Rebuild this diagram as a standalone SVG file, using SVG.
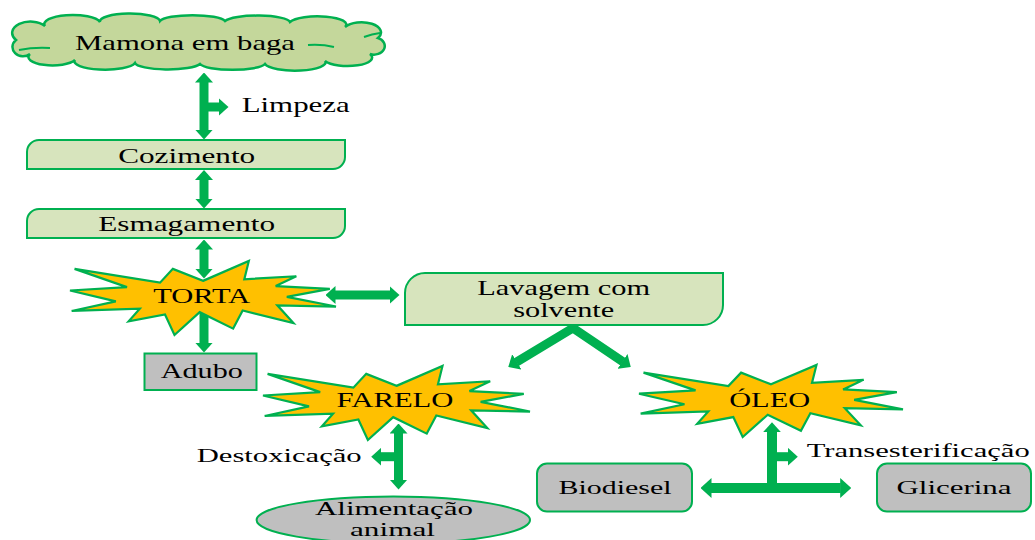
<svg xmlns="http://www.w3.org/2000/svg" xmlns:xlink="http://www.w3.org/1999/xlink" width="1035" height="540" viewBox="0 0 1035 540">
<style>
text{font-family:"Liberation Serif","Times New Roman",serif;fill:#000;font-size:21px}
.c{text-anchor:middle}
.s{font-size:19px}
.box{fill:#d7e4bd;stroke:#00b050;stroke-width:2}
.gray{fill:#bfbfbf;stroke:#00b050;stroke-width:2}
.cloud{fill:#c4d79b;stroke:#00b050;stroke-width:2.5}
.star{fill:#ffc000;stroke:#00b050;stroke-width:2.2}
.ar{fill:none;stroke:#00b050;stroke-width:9;stroke-linejoin:miter}
.ar2{fill:none;stroke:#00b050;stroke-width:10}
</style>
<defs>
<marker id="h" viewBox="0 -9 10 18" refX="0.5" refY="0" markerWidth="10" markerHeight="18" markerUnits="userSpaceOnUse" orient="auto-start-reverse">
<path d="M0,-9 L10,0 L0,9 Z" fill="#00b050"/>
</marker>
<marker id="hb" viewBox="0 -10 11 20" refX="0.5" refY="0" markerWidth="11" markerHeight="20" markerUnits="userSpaceOnUse" orient="auto-start-reverse">
<path d="M0,-10 L11,0 L0,10 Z" fill="#00b050"/>
</marker>
<path id="seal" vector-effect="non-scaling-stroke" d="M50,26.85 L67.23,0 L65.53,24.65 L85.09,20.63 L77.32,33.87 L97.67,37.67 L81.51,48.5 L100,61.53 L77.95,59.92 L84,83.77 L64.91,66.93 L61.33,91.38 L48.76,69.14 L39.28,100 L35.72,72.35 L22.05,81.56 L26.24,64.52 L0.625,67.53 L17.23,54.51 L0,39.88 L21.42,35.26 L1.71,10.63 L33.85,29.26 L38.67,10.63 Z"/>
</defs>
<rect width="1035" height="540" fill="#fff"/>

<g id="connectors">
<line class="ar" x1="204" y1="82" x2="204" y2="130" marker-start="url(#h)" marker-end="url(#h)"/>
<line class="ar" x1="204" y1="107" x2="219" y2="107" marker-end="url(#h)"/>
<line class="ar" x1="204" y1="179.5" x2="204" y2="199" marker-start="url(#h)" marker-end="url(#h)"/>
<line class="ar" x1="204" y1="249" x2="204" y2="269" marker-start="url(#h)" marker-end="url(#h)"/>
<line class="ar" x1="204" y1="305" x2="204" y2="343" marker-end="url(#h)"/>
<line class="ar" x1="335" y1="295" x2="390" y2="295" marker-start="url(#h)" marker-end="url(#h)"/>
<polyline class="ar" points="516.4,362.1 573,328 622.9,361.7" marker-start="url(#h)" marker-end="url(#h)"/>
<line class="ar" x1="398.5" y1="433" x2="398.5" y2="480" marker-start="url(#h)" marker-end="url(#h)"/>
<line class="ar" x1="398.5" y1="456.7" x2="380.7" y2="456.7" marker-end="url(#h)"/>
<line class="ar2" x1="772" y1="431.7" x2="772" y2="488" marker-start="url(#h)"/>
<line class="ar2" x1="711" y1="488" x2="840.7" y2="488" marker-start="url(#hb)" marker-end="url(#hb)"/>
<line class="ar" x1="772" y1="456.7" x2="788.3" y2="456.7" marker-end="url(#h)"/>
</g>

<g id="mamona">
<path class="cloud" d="M16,40 A16,10 0 0 1 45,26 A28,9 0 0 1 100,22 A30,8 0 0 1 160,21 A33,7 0 0 1 225,21 A33,7 0 0 1 290,22 A28,8 0 0 1 345,27 A17,9 0 0 1 378,38 A10,8 0 0 1 370,54 A23,8 0 0 1 325,61 A30,8 0 0 1 265,64 A33,7 0 0 1 200,64 A33,7 0 0 1 135,63 A30,8 0 0 1 75,60 A23,8 0 0 1 30,54 A9,8 0 0 1 16,40 Z"/>
<path d="M308,45 Q322,44 334,47 M364,37 Q372,34 380,33 M19,50 Q34,47 50,48" fill="none" stroke="#00b050" stroke-width="2"/>
<text class="c" x="185" y="49.5" font-size="22" textLength="220" lengthAdjust="spacingAndGlyphs">Mamona em baga</text>
</g>

<g id="limpeza">
<text x="241.7" y="111.7" textLength="108" lengthAdjust="spacingAndGlyphs">Limpeza</text>
</g>

<g id="cozimento">
<path class="box" d="M27,169 V152 A12,12 0 0 1 39,140 H345 V157 A12,12 0 0 1 333,169 Z"/>
<text class="c" x="186.7" y="162.7" textLength="137" lengthAdjust="spacingAndGlyphs">Cozimento</text>
</g>

<g id="esmagamento">
<path class="box" d="M27,238 V221 A12,12 0 0 1 39,209 H345 V226 A12,12 0 0 1 333,238 Z"/>
<text class="c" x="186.7" y="231" textLength="177" lengthAdjust="spacingAndGlyphs">Esmagamento</text>
</g>

<g id="torta">
<use xlink:href="#seal" class="star" transform="translate(70,261) scale(2.66,0.74)"/>
<text class="c" x="201.7" y="302.7" textLength="97" lengthAdjust="spacingAndGlyphs">TORTA</text>
</g>

<g id="adubo">
<rect class="gray" x="144.5" y="353.5" width="112" height="36.5"/>
<text class="c" x="201.8" y="378.3" textLength="82" lengthAdjust="spacingAndGlyphs">Adubo</text>
</g>

<g id="lavagem">
<path class="box" d="M405,325 V293 A20,20 0 0 1 425,273 H723 V305 A20,20 0 0 1 703,325 Z"/>
<text class="c" x="563.7" y="295" font-size="22" textLength="173" lengthAdjust="spacingAndGlyphs">Lavagem com</text>
<text class="c" x="563.7" y="317.3" font-size="22" textLength="101" lengthAdjust="spacingAndGlyphs">solvente</text>
</g>

<g id="farelo">
<use xlink:href="#seal" class="star" transform="translate(263,366) scale(2.67,0.74)"/>
<text class="c" x="395" y="406.7" font-size="20" textLength="117" lengthAdjust="spacingAndGlyphs">FARELO</text>
</g>

<g id="oleo">
<use xlink:href="#seal" class="star" transform="translate(639,365) scale(2.64,0.72)"/>
<text class="c" x="769.7" y="406.7" font-size="20" textLength="81" lengthAdjust="spacingAndGlyphs">ÓLEO</text>
</g>

<g id="destoxicacao">
<text class="s" x="196.7" y="461.7" textLength="165" lengthAdjust="spacingAndGlyphs">Destoxicação</text>
</g>

<g id="alimentacao">
<ellipse class="gray" cx="393.3" cy="520" rx="136.7" ry="23.5"/>
<text class="c s" x="394" y="515" textLength="158" lengthAdjust="spacingAndGlyphs">Alimentação</text>
<text class="c s" x="392.5" y="535.5" textLength="85" lengthAdjust="spacingAndGlyphs">animal</text>
</g>

<g id="transesterificacao">
<text class="s" x="806.7" y="456.7" textLength="223" lengthAdjust="spacingAndGlyphs">Transesterificação</text>
</g>

<g id="biodiesel">
<rect class="gray" x="537" y="463.5" width="155" height="48" rx="10"/>
<text class="c s" x="615" y="494" textLength="113" lengthAdjust="spacingAndGlyphs">Biodiesel</text>
</g>

<g id="glicerina">
<rect class="gray" x="877" y="463.5" width="154" height="48" rx="10"/>
<text class="c s" x="954" y="494" textLength="115" lengthAdjust="spacingAndGlyphs">Glicerina</text>
</g>
</svg>
